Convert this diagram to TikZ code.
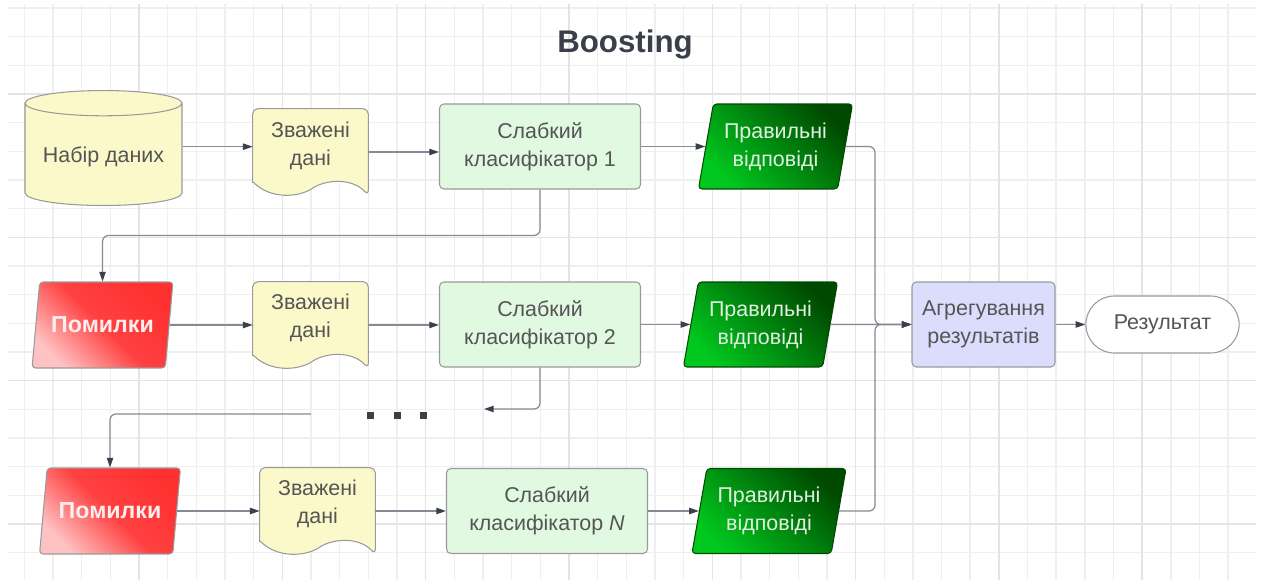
\documentclass[tikz,border=0pt]{standalone}
\usepackage{fontspec}
\setmainfont{Liberation Sans}
\usetikzlibrary{shapes.geometric,shapes.misc,arrows.meta,calc}

\definecolor{gridminor}{HTML}{EFEFEF}
\definecolor{gridmajor}{HTML}{E4E4E4}
\definecolor{notefill}{HTML}{FBF9C9}
\definecolor{clsfill}{HTML}{E1F8E1}
\definecolor{aggfill}{HTML}{DCDCFC}
\definecolor{edgegrey}{HTML}{9A9A9A}
\definecolor{txtgrey}{HTML}{555555}
\definecolor{wiregrey}{HTML}{858A94}
\definecolor{tipdark}{HTML}{3A3F4A}
\definecolor{okbright}{HTML}{00C81E}
\definecolor{okdark}{HTML}{004A00}
\definecolor{goodtext}{HTML}{E2F0E2}
\definecolor{errlight}{HTML}{FFC2C2}
\definecolor{errred}{HTML}{FF3030}
\definecolor{errtext}{HTML}{FFEEEE}

\newcommand{\lblfont}{\fontsize{12.2}{15.9}\selectfont}

\pgfdeclarelayer{grid}
\pgfdeclarelayer{shapes}
\pgfsetlayers{grid,shapes,main}

\begin{document}
\begin{tikzpicture}[x=0.02cm, y=-0.02cm,
	box/.style={draw=edgegrey, line width=0.6pt, font=\lblfont, text=txtgrey, align=center},
	databox/.style={box, cylinder, shape border rotate=90, aspect=0.19, fill=notefill, minimum width=3.14cm, minimum height=2.3cm},
	notebox/.style={minimum width=2.3cm, minimum height=1.72cm, inner sep=0pt},
	weakbox/.style={box, rounded corners=2.5pt, fill=clsfill, minimum width=4.02cm, minimum height=1.7cm},
	goodbox/.style={box, trapezium, trapezium left angle=77, trapezium right angle=103, trapezium stretches=true, rounded corners=2pt, draw=okdark, top color=okdark, bottom color=okbright, shading angle=-45, text=goodtext, minimum width=3.1cm, minimum height=1.7cm},
	errbox/.style={box, trapezium, trapezium left angle=76, trapezium right angle=104, trapezium stretches=true, rounded corners=2pt, top color=errred, bottom color=errlight, middle color=errred!92!white, shading angle=-45, text=errtext, font=\fontsize{13.2}{15.9}\selectfont\bfseries, minimum width=2.82cm, minimum height=1.72cm},
	aggbox/.style={box, rounded corners=2.5pt, fill=aggfill, minimum width=2.86cm, minimum height=1.7cm},
	endbox/.style={box, rounded rectangle, fill=white, minimum width=3.3cm, minimum height=1.14cm},
	wire/.style={draw=wiregrey, line width=0.7pt, rounded corners=0.12cm, -{Triangle[length=5.5pt,width=3.6pt,color=tipdark]}},
	minorline/.style={draw=gridminor, line width=0.8pt},
	majorline/.style={draw=gridmajor, line width=0.8pt}]

	% grid paper
	\begin{pgfonlayer}{grid}
		\fill[white] (0,0) rectangle (1261,580);
		\foreach \k in {0,...,42} \draw[minorline] ({24.4+28.66*\k},4) -- ({24.4+28.66*\k},580);
		\foreach \k in {0,...,19} \draw[minorline] (8,{8+28.66*\k}) -- (1256,{8+28.66*\k});
		\foreach \k in {0,...,7} \draw[majorline] ({139+143.3*\k},4) -- ({139+143.3*\k},580);
		\foreach \k in {0,...,3} \draw[majorline] (8,{94+143.3*\k}) -- (1256,{94+143.3*\k});
	\end{pgfonlayer}
	\useasboundingbox (0,0) rectangle (1261,580);

	\node[font=\fontsize{17.8}{20}\selectfont\bfseries, text=tipdark] (title) at (625,44) {Boosting};

	% row 1
	\node[databox] (data) at (103.5,157) {Набір даних};
	\node[notebox, label={[box, draw=none, name=doc1t, yshift=0.13cm]center:Зважені\\дані}] (doc1) at (310.5,152) {};
	\node[weakbox] (cls1) at (540,146.5) {Слабкий\\класифікатор 1};
	\node[goodbox] (ok1) at (775.5,146.5) {Правильні\\відповіді};

	% row 2
	\node[errbox] (err2) at (102.5,325) {Помилки};
	\node[notebox, label={[box, draw=none, name=doc2t, yshift=0.14cm]center:Зважені\\дані}] (doc2) at (310.5,325) {};
	\node[weakbox] (cls2) at (540,324.5) {Слабкий\\класифікатор 2};
	\node[goodbox] (ok2) at (760.5,324.5) {Правильні\\відповіді};

	% row N
	\node[errbox] (err3) at (110,511) {Помилки};
	\node[notebox, label={[box, draw=none, name=doc3t, yshift=0.14cm]center:Зважені\\дані}] (doc3) at (317.5,511) {};
	\node[weakbox] (clsN) at (547,511) {Слабкий\\класифікатор \textit{N}};
	\node[goodbox] (okN) at (769,511) {Правильні\\відповіді};

	\node[aggbox] (agg) at (983.5,324.5) {Агрегування\\результатів};
	\node[endbox] (res) at (1162.5,324.5) {Результат};

	% wavy documents
	\begin{pgfonlayer}{shapes}
		\foreach \d in {doc1,doc2,doc3}
			\draw[draw=edgegrey, line width=0.6pt, fill=notefill]
				($(\d.south west)+(0,-13)$) [rounded corners=3pt] -- (\d.north west) -- (\d.north east) -- (\d.south east) [sharp corners]
				.. controls +(-17,-18) and +(13.5,-10) .. ++(-57.5,-6)
				.. controls +(-13.5,8) and +(17,17) .. ++(-57.5,-7) -- cycle;
	\end{pgfonlayer}

	\coordinate (bus) at (875,324.5);
	\coordinate (gapR) at (484,409);
	\coordinate (gapL) at (311,414);
	\coordinate (dataout) at ($(data.east)+(0,-10.3)$);

	\draw[wire] (dataout) -- (dataout -| doc1.west);
	\draw[wire] (doc1.east) -- (doc1.east -| cls1.west);
	\draw[wire] (cls1.east) -- (cls1.east -| ok1.west);
	\draw[wire] (ok1.east) -| (bus) -- (agg.west);

	\draw[wire] (cls1.south) -- ++(0,46) -| (err2.north);
	\draw[wire] (err2.east) -- (err2.east -| doc2.west);
	\draw[wire] (doc2.east) -- (doc2.east -| cls2.west);
	\draw[wire] (cls2.east) -- (cls2.east -| ok2.west);
	\draw[wire] (ok2.east) -- (agg.west);

	\draw[wire] (cls2.south) |- (gapR);
	\foreach \x in {370,397,423} \fill[tipdark] ({\x-3.5},412.5) rectangle ++(7,7);
	\draw[wire] (gapL) -| (err3.north);

	\draw[wire] (err3.east) -- (err3.east -| doc3.west);
	\draw[wire] (doc3.east) -- (doc3.east -| clsN.west);
	\draw[wire] (clsN.east) -- (clsN.east -| okN.west);
	\draw[wire] (okN.east) -| (bus) -- (agg.west);

	\draw[wire] (agg.east) -- (res.west);
\end{tikzpicture}
\end{document}
